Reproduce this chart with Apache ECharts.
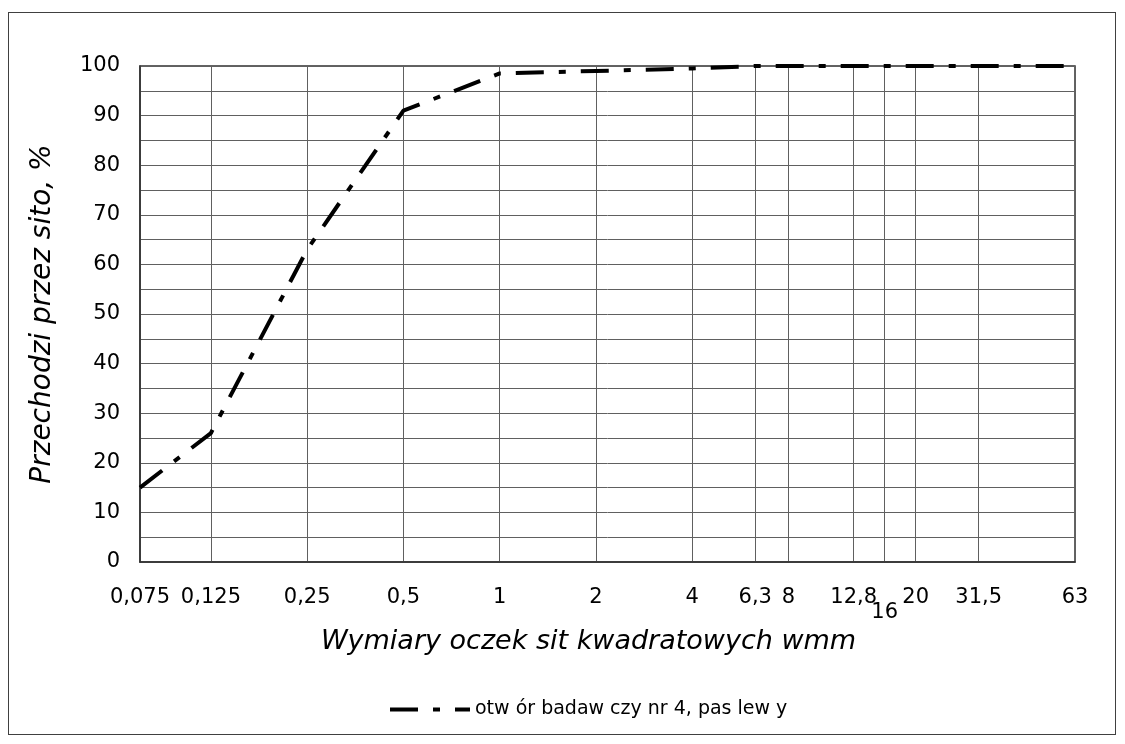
<!DOCTYPE html>
<html>
<head>
<meta charset="utf-8">
<script src="https://cdn.jsdelivr.net/npm/echarts@6/dist/echarts.min.js"></script>
<style>
  html, body { margin: 0; padding: 0; background: #fff; }
  #frame {
    position: absolute; left: 8px; top: 12px; width: 1108px; height: 723px;
    border: 1.5px solid #404040; box-sizing: border-box;
  }
  #chart { position: absolute; left: 0; top: 0; width: 1125px; height: 744px; }
</style>
</head>
<body>
<div id="frame"></div>
<div id="chart"></div>
<script>
// sieve sizes (mm) and their printed labels
const sieveSizes = [0.075, 0.125, 0.25, 0.5, 1, 2, 4, 6.3, 8, 12.8, 16, 20, 31.5, 63];
const sieveLabels = ["0,075", "0,125", "0,25", "0,5", "1", "2", "4", "6,3", "8", "12,8", "16", "20", "31,5", "63"];
// % passing
const passing = [15, 26, 63, 91, 98.5, 99, 99.5, 100, 100, 100, 100, 100, 100, 100];
const seriesName = "otw ór badaw czy nr 4, pas lew y";

const font = "'DejaVu Sans', 'Liberation Sans', Arial, sans-serif";
const dash = [28, 15, 7, 15];
const logX = sieveSizes.map((s) => Math.log2(s));

const labelFor = (v) => {
  const i = logX.findIndex((x) => Math.abs(x - v) < 1e-6);
  if (i < 0) return "";
  return sieveLabels[i] === "16" ? "{low|16}" : sieveLabels[i];
};

const chart = echarts.init(document.getElementById("chart"));
chart.setOption({
  animation: false,
  grid: {
    left: 140, right: 50, top: 66, bottom: 182,
    show: true, borderColor: "#303030", borderWidth: 1.5,
  },
  legend: {
    data: [seriesName],
    bottom: 20,
    left: 383,
    itemWidth: 80,
    itemHeight: 14,
    itemGap: 4,
    itemStyle: { opacity: 0 },
    lineStyle: { color: "#000", width: 4, type: dash },
    textStyle: { fontFamily: font, fontSize: 19, color: "#000" },
  },
  xAxis: {
    type: "value",
    min: logX[0],
    max: logX[logX.length - 1],
    name: "Wymiary oczek sit kwadratowych wmm",
    nameLocation: "middle",
    nameGap: 66,
    nameTextStyle: {
      fontFamily: font, fontSize: 27, fontStyle: "italic", color: "#000",
      padding: [0, 38, 0, 0],
    },
    axisLine: { show: true, onZero: false, lineStyle: { color: "#303030", width: 1.5 } },
    axisTick: { show: false, customValues: logX },
    axisLabel: {
      customValues: logX,
      margin: 25,
      fontFamily: font, fontSize: 21, color: "#000",
      formatter: labelFor,
      rich: { low: { fontFamily: font, fontSize: 21, color: "#000", padding: [15, 0, 0, 0] } },
    },
    splitLine: { show: true, lineStyle: { color: "#606060", width: 1 } },
  },
  yAxis: {
    type: "value",
    min: 0,
    max: 100,
    interval: 5,
    name: "Przechodzi przez sito, %",
    nameLocation: "middle",
    nameGap: 83,
    nameTextStyle: { fontFamily: font, fontSize: 28, fontStyle: "italic", color: "#000" },
    axisLine: { show: true, onZero: false, lineStyle: { color: "#303030", width: 1.5 } },
    axisTick: { show: false },
    axisLabel: {
      margin: 20,
      fontFamily: font, fontSize: 21, color: "#000",
      formatter: (v) => (v % 10 === 0 ? String(v) : ""),
    },
    splitLine: { show: true, lineStyle: { color: "#606060", width: 1 } },
  },
  series: [
    {
      name: seriesName,
      type: "line",
      data: logX.map((x, i) => [x, passing[i]]),
      symbol: "none",
      lineStyle: { color: "#000", width: 4, type: dash },
      itemStyle: { color: "#000" },
    },
  ],
});
</script>
</body>
</html>
